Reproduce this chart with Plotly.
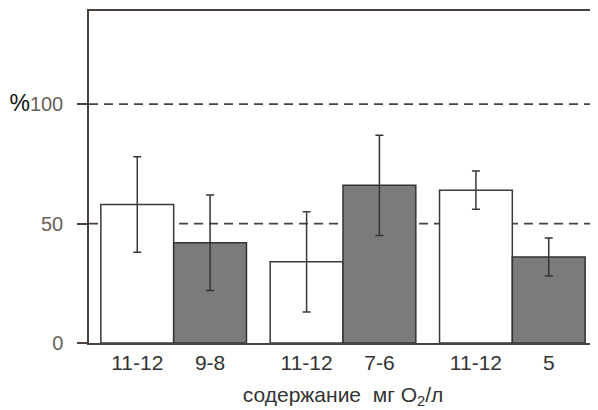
import plotly.graph_objects as go

groups = [0, 1, 2]
white_vals = [58, 34, 64]
white_err = [20, 21, 8]
gray_vals = [42, 66, 36]
gray_err = [20, 21, 8]
white_labels = ["11-12", "11-12", "11-12"]
gray_labels = ["9-8", "7-6", "5"]
y_ticks = [0, 50, 100]
y_ticktext = ["0", "50", "<span style='font-size:23px;color:#111'>%</span>100"]
x_title = "содержание  мг O<sub>2</sub>/л"

bargap = 0.14
half = (1 - bargap) / 4

fig = go.Figure()
fig.add_trace(go.Bar(
    x=groups, y=white_vals, offsetgroup="w",
    marker=dict(color="white", line=dict(color="#3a3a3a", width=1.5)),
    error_y=dict(type="data", array=white_err, color="#3a3a3a", thickness=1.5, width=4),
    showlegend=False,
))
fig.add_trace(go.Bar(
    x=groups, y=gray_vals, offsetgroup="g",
    marker=dict(color="#7b7b7b", line=dict(color="#333333", width=1.5)),
    error_y=dict(type="data", array=gray_err, color="#333333", thickness=1.5, width=4),
    showlegend=False,
))

for yv in [50, 100]:
    fig.add_shape(type="line", xref="paper", x0=0, x1=1, y0=yv, y1=yv,
                  line=dict(color="#4a4040", width=1.8, dash="9px,6px"), layer="below")

tickvals = []
ticktext = []
for g, wl, gl in zip(groups, white_labels, gray_labels):
    tickvals += [g - half, g + half]
    ticktext += [wl, gl]

# page body has an 8px default margin, so the figure is sized to fit the window
fig.update_layout(
    width=590, height=402,
    margin=dict(l=81, r=1, t=3, b=67),
    paper_bgcolor="white", plot_bgcolor="white",
    barmode="group", bargap=bargap, bargroupgap=0,
    font=dict(family="Liberation Sans, Arial, sans-serif", color="#333"),
    xaxis=dict(
        range=[-0.5, 2.5], tickmode="array", tickvals=tickvals, ticktext=ticktext,
        showgrid=False, zeroline=False, ticks="", showline=True, linecolor="#4a403c",
        linewidth=1.5, mirror=True, automargin=False,
        tickfont=dict(size=21, color="#333"),
        title=dict(text=x_title, font=dict(size=21, color="#333"), standoff=14),
    ),
    yaxis=dict(
        range=[0, 139], tickmode="array", tickvals=y_ticks, ticktext=y_ticktext,
        showgrid=False, zeroline=False, ticks="outside", ticklen=10,
        tickcolor="#4a403c", tickwidth=1.5, automargin=False,
        showline=True, linecolor="#4a403c", linewidth=1.5, mirror=True,
        tickfont=dict(size=20, color="#6b6058"), ticklabelstandoff=10,
    ),
)

fig.write_html("out.html")
